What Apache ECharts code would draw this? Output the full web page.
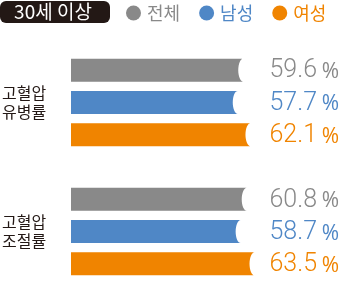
<!DOCTYPE html>
<html><head><meta charset="utf-8">
<script src="https://cdn.jsdelivr.net/npm/echarts@6/dist/echarts.min.js"></script>
<style>html,body{margin:0;padding:0;background:#fff}#c{width:340px;height:286px}</style>
</head><body><div id="c"></div>
<script>
const headerText = '30세 이상';
const groupNames = ['고혈압\n유병률', '고혈압\n조절률'];
const sexNames = ['전체', '남성', '여성'];
const sexColors = ['#898989', '#4f87c6', '#f08400'];
const prevalence = [59.6, 57.7, 62.1];
const control = [60.8, 58.7, 63.5];
const groupValues = [prevalence, control];

// y slots: 3 rows per group + 1 blank spacer between groups
const slots = [];
groupNames.forEach((g, gi) => {
  if (gi > 0) slots.push('');
  sexNames.forEach((s, si) => slots.push(si === 1 ? g : ' '.repeat(si + 1 + gi * 3)));
});

const BAR_H = 23, NOTCH = 5;
function renderItem(params, api) {
  const v = api.value(0), c = api.value(1);
  const s = api.coord([0, c]);
  const e = api.coord([v, c]);
  const cy = e[1], hh = BAR_H / 2;
  const pts = [[s[0], cy - hh]];
  const N = 16;
  for (let i = 0; i <= N; i++) {
    const th = -Math.PI / 2 + Math.PI * i / N;
    pts.push([e[0] - NOTCH * Math.cos(th), cy + hh * Math.sin(th)]);
  }
  pts.push([s[0], cy + hh]);
  const col = api.visual('color');
  return {
    type: 'group',
    children: [
      { type: 'polygon', shape: { points: pts }, style: { fill: col } },
      { type: 'text', x: 317, y: cy + 1,
        style: { text: v.toFixed(1), align: 'right', verticalAlign: 'middle',
          fill: col, fontSize: 25, fontFamily: 'Roboto', fontWeight: 300 } },
      { type: 'text', x: 339, y: cy + 2,
        style: { text: '%', align: 'right', verticalAlign: 'middle',
          fill: col, fontSize: 21, fontFamily: 'Open Sans', fontWeight: 'normal' } }
    ]
  };
}

const series = sexNames.map((name, si) => {
  const data = [];
  groupValues.forEach((vals, gi) => data.push([vals[si], gi * 4 + si]));
  return { type: 'custom', name, color: sexColors[si], renderItem, data, encode: { x: 0, y: 1 } };
});

const chart = echarts.init(document.getElementById('c'), null, { renderer: 'canvas' });
chart.setOption({
  animation: false,
  grid: { left: 71, top: 54, width: 289, height: 226, outerBoundsMode: 'none', containLabel: false },
  xAxis: { type: 'value', min: 0, max: 100, show: false },
  yAxis: {
    type: 'category', data: slots, inverse: true,
    axisLine: { show: false }, axisTick: { show: false }, splitLine: { show: false },
    axisLabel: { align: 'left', margin: 69, fontSize: 16, lineHeight: 19, color: '#231815',
      fontFamily: 'Noto Sans CJK KR', interval: 0,
      formatter: (val) => val.trim() === '' ? '' : val }
  },
  legend: {
    left: 126, top: 4, padding: 0, itemWidth: 15, itemHeight: 15, itemGap: 19, icon: 'circle',
    textStyle: { fontSize: 18, fontFamily: 'Noto Sans CJK KR', padding: [0, 0, 0, 1] },
    data: sexNames.map((n, i) => ({ name: n, textStyle: { color: sexColors[i] } }))
  },
  graphic: [
    { type: 'rect', left: 0, top: 1, shape: { width: 110, height: 22, r: 6 }, style: { fill: '#231815' } },
    { type: 'text', x: 53, y: 12, style: { text: headerText, fill: '#fff', fontSize: 19,
      fontFamily: 'Noto Sans CJK KR', align: 'center', verticalAlign: 'middle' } }
  ],
  series
});
</script></body></html>
